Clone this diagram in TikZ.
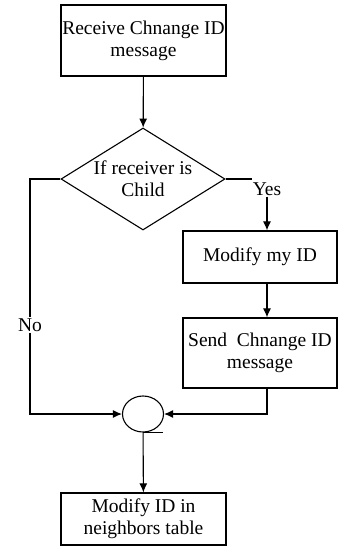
\documentclass[tikz,border=0pt]{standalone}
\usepackage{fontspec}
\setmainfont{Liberation Serif}
\usetikzlibrary{shapes.geometric,arrows.meta}
\tikzset{
  stepbox/.style={draw, line width=1.2pt, align=center, inner sep=0pt},
  decision/.style={draw, diamond, aspect=1.6, line width=1.1pt, align=center, inner sep=0pt,
    minimum width=164pt, minimum height=102pt},
  merge/.style={draw, ellipse, line width=1.1pt, inner sep=0pt,
    minimum width=41pt, minimum height=36pt},
  flow/.style={line width=1.1pt, -{Latex[length=9pt,width=8pt]}},
  wire/.style={line width=1.1pt},
}
\begin{document}
\begin{tikzpicture}[x=1pt, y=-1pt, font=\fontsize{19.5}{22}\selectfont]
      \useasboundingbox (0,0) rectangle (338,546);
      \draw
        (143.5,40.5) node[stepbox, minimum width=165pt, minimum height=71pt] (recv){Receive Chnange ID\\message}
        (143,179) node[decision, text depth=0pt] (test){If receiver is\\Child}
        (267,189) node[inner sep=1pt] (yes){Yes}
        (260,257) node[stepbox, minimum width=154pt, minimum height=52pt] (mine){Modify my ID}
        (260,353) node[stepbox, minimum width=154pt, minimum height=70pt] (send){Send~ Chnange ID\\message}
        (30,325) node[fill=white, inner sep=1pt] (no){No}
        (143,414) node[merge] (join){}
        (143.5,519) node[stepbox, minimum width=165pt, minimum height=52pt] (upd){Modify ID in\\neighbors table};
      \begin{scope}[flow]
        \draw (recv) to (test);
        \draw (yes) to (yes |- mine.north);
        \draw (yes |- mine.south) to (yes |- send.north);
        \draw (yes |- send.south) |- (join.east);
        \draw (no.south) |- (join.west);
        \draw (join) to (upd);
      \end{scope}
      \begin{scope}[wire]
        \draw (test.east) -- (yes.north west |- test.east);
        \draw (test.west) -| (no.north);
        \draw (join.south) -- ++(20,0);
      \end{scope}
    \end{tikzpicture}
\end{document}
